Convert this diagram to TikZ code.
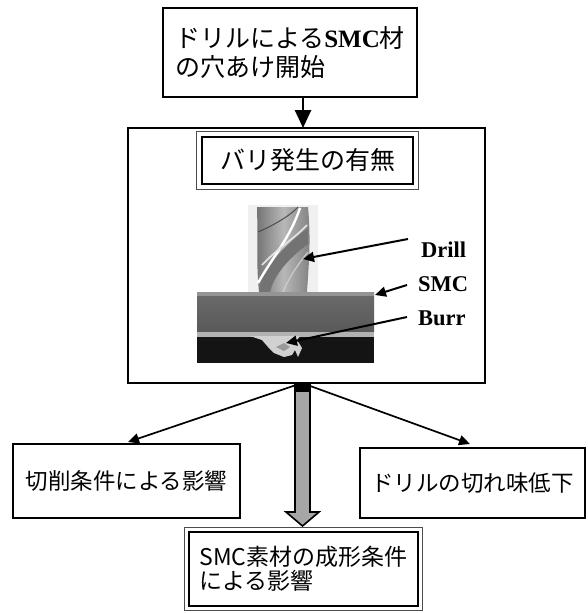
\documentclass[tikz,border=0pt]{standalone}
\usepackage{fontspec}
\newfontfamily\jp{Noto Sans CJK JP}
\newfontfamily\tms{Liberation Serif}
\usetikzlibrary{arrows.meta,calc}
\tikzset{
  box/.style={draw=black, line width=2.4pt, fill=white, inner sep=0pt, font=\jp},
  innerbox/.style={draw=black, line width=2.2pt, fill=white, inner sep=0pt, font=\jp},
  outerline/.style={draw=black!70, line width=1.1pt},
  thinarr/.style={draw=black, line width=1.7pt, -{Triangle[length=11pt,width=10pt]}},
  bigarr/.style={draw=black, line width=2.6pt, -{Triangle[length=18pt,width=16pt]}},
  ptrarr/.style={draw=black, line width=2pt, -{Triangle[length=11pt,width=10pt]}},
  lbl/.style={font=\tms\bfseries\fontsize{22.5}{24}\selectfont, inner sep=0pt, anchor=west},
}
\begin{document}
\begin{tikzpicture}[x=1pt,y=-1pt]
\useasboundingbox (0,0) rectangle (587,613);

% main frame
\node[box, minimum width=357pt, minimum height=255pt] (main) at (306.5,255.5) {};

% top box
\node[box, minimum width=254pt, minimum height=89pt, align=left,
      font=\jp\fontsize{25}{29}\selectfont] (top) at (290,52.5)
  {ドリルによる{\tms\bfseries SMC}材\\の穴あけ開始};

\coordinate (o1) at (303,128);
\draw[bigarr] (top.south -| o1) -- (o1);

% double box: burr occurrence
\node[innerbox, minimum width=211pt, minimum height=47pt,
      font=\jp\fontsize{25}{29}\selectfont] (bari) at (307.5,160.5) {バリ発生の有無};
\draw[outerline] ($(bari.north west)+(-4,-4)$) rectangle ($(bari.south east)+(4,4)$);

% ---- photo: drill ----
\fill[black!6] (248,205) rectangle (318,292);
\shade[left color=black!55, right color=black!50, middle color=black!28]
  (257,207) .. controls (258,240) and (256,262) .. (259,292)
  -- (307,292) .. controls (309,262) and (311,240) .. (308,207) -- cycle;
\fill[black!55] (259,292) .. controls (262,268) and (285,245) .. (308,228)
  -- (308,244) .. controls (292,256) and (275,272) .. (270,292) -- cycle;
\draw[white, line width=2.4pt] (258,283) .. controls (272,258) and (290,238) .. (300,208);
\draw[white!90!black, line width=1.6pt] (262,265) .. controls (278,248) and (295,238) .. (307,225);
\draw[white!80!black, line width=1.2pt] (283,292) .. controls (290,275) and (300,262) .. (308,252);
\draw[black!70, line width=1pt] (258,232) .. controls (272,226) and (290,216) .. (298,207);

% ---- photo: SMC plate ----
\shade[top color=black!58, bottom color=black!65] (197,292) rectangle (374,332);
\fill[black!42] (197,292) rectangle (374,296);
\fill[black!30] (197,332) rectangle (374,337);
\fill[black!92] (197,337) rectangle (374,363);
\fill[black!18] (250,336) -- (262,340) -- (268,347) -- (274,353) -- (284,357) -- (292,355)
  -- (295,350) -- (298,357) -- (302,348) -- (297,340) -- (300,336) -- cycle;
\fill[black!40] (276,347) -- (284,351) -- (290,347) -- (284,343) -- cycle;

% labels
\node[lbl] (ldrill) at (421,250) {Drill};
\node[lbl] (lsmc) at (418,284) {SMC};
\node[lbl] (lburr) at (418,318) {Burr};
\coordinate (pdrill) at (303,259);
\coordinate (psmc) at (375,295);
\coordinate (pburr) at (286,343);
\draw[ptrarr] ($(ldrill.west)+(-13,-11)$) -- (pdrill);
\draw[ptrarr] ($(lsmc.west)+(-11,1)$) -- (psmc);
\draw[ptrarr] ($(lburr.west)+(-11,-1)$) -- (pburr);

% ---- lower boxes ----
\node[box, minimum width=227pt, minimum height=74pt,
      font=\jp\fontsize{22.5}{26}\selectfont] (left) at (126.5,481) {切削条件による影響};
\node[box, minimum width=225pt, minimum height=70pt,
      font=\jp\fontsize{22.5}{26}\selectfont] (right) at (472.5,483) {ドリルの切れ味低下};
\node[innerbox, line width=1.8pt, minimum width=229pt, minimum height=74pt, align=left,
      font=\jp\fontsize{23}{24}\selectfont] (bottom) at (303.5,569)
  {SMC素材の成形条件\\による影響};
\draw[outerline] ($(bottom.north west)+(-4,-4)$) rectangle ($(bottom.south east)+(4,4)$);

% arrows out of the main frame
\coordinate (o2) at (302,383);
\coordinate (lt) at (128,442);
\coordinate (rt) at (470,444);
\draw[thinarr] (o2) -- (lt);
\draw[thinarr] (o2) -- (rt);

% gray block arrow
\draw[fill=black!35, line width=1.6pt, line join=miter]
  (295,383) -- (295,512) -- (286,512) -- (302.5,526) -- (319,512) -- (310,512) -- (310,383) -- cycle;
\fill[black] (295,383) rectangle (310,392);
\end{tikzpicture}
\end{document}
